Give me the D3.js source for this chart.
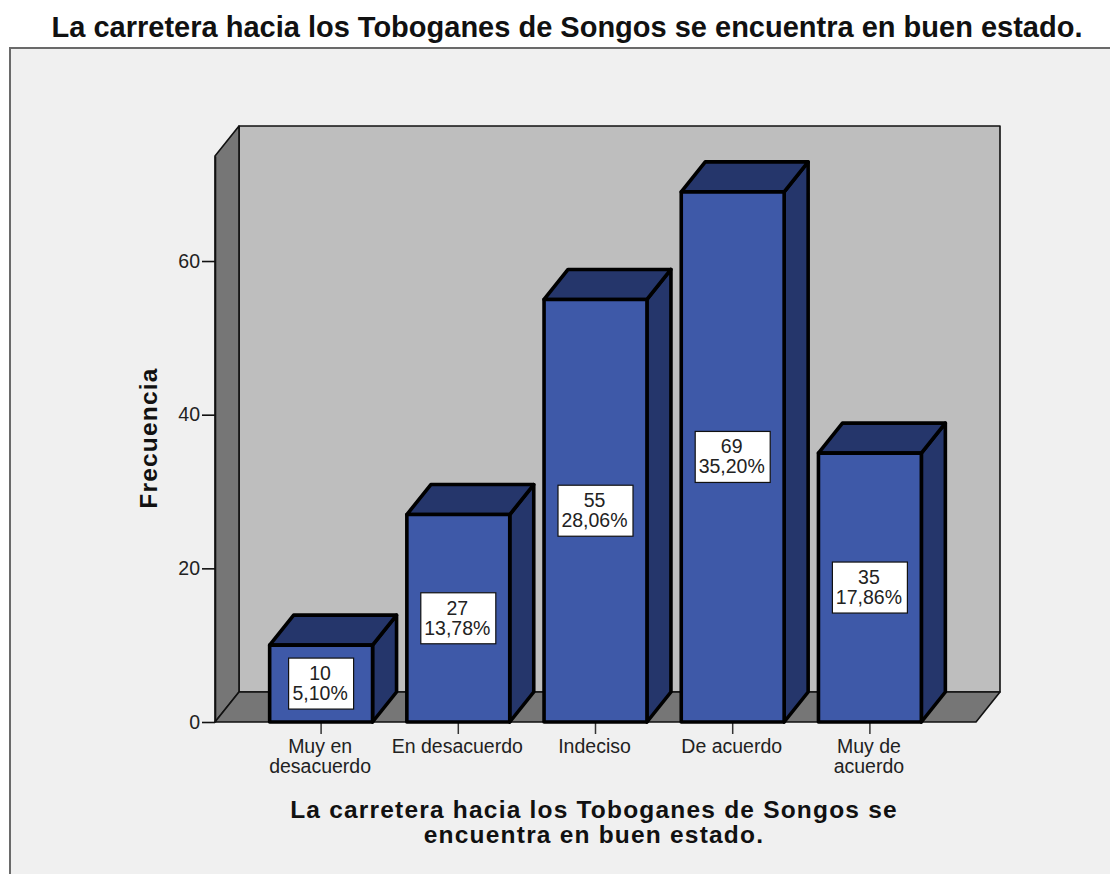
<!DOCTYPE html>
<html><head><meta charset="utf-8">
<script src="https://cdn.jsdelivr.net/npm/d3@7"></script>
<style>html,body{margin:0;padding:0;background:#fff}svg{display:block}text{font-family:"Liberation Sans",Arial,sans-serif}</style>
</head><body><div id="c"></div>
<script>
const categories=["Muy en desacuerdo","En desacuerdo","Indeciso","De acuerdo","Muy de acuerdo"];
const categoryLines=[["Muy en","desacuerdo"],["En desacuerdo"],["Indeciso"],["De acuerdo"],["Muy de","acuerdo"]];
const frequencies=[10,27,55,69,35];
const percents=["5,10%","13,78%","28,06%","35,20%","17,86%"];
const yTicks=[0,20,40,60];
const yMax=73.67;
const chartTitle="La carretera hacia los Toboganes de Songos se encuentra en buen estado.";
const xTitle=["La carretera hacia los Toboganes de Songos se","encuentra en buen estado."];
const yTitle="Frecuencia";

const W=1110,H=874;
const svg=d3.select("#c").append("svg").attr("width",W).attr("height",H);
const y=d3.scaleLinear().domain([0,yMax]).range([722,156]);
const x=d3.scaleBand().domain(categories).range([252.5,938.5]).paddingInner(.25).paddingOuter(.125);
const dx=24,dy=-30,left=215,right=976;
const pts=a=>a.map(p=>p.join(",")).join(" ");

svg.append("rect").attr("x",10).attr("y",48).attr("width",W).attr("height",H).attr("fill","#f0f0f0").attr("stroke","#6a6a6a").attr("stroke-width",2);
svg.append("text").attr("x",567).attr("y",36.5).attr("text-anchor","middle").attr("font-size",29).attr("font-weight","bold").attr("fill","#111").text(chartTitle);

function poly(a,fill){return svg.append("polygon").attr("points",pts(a)).attr("fill",fill).attr("stroke","#111").attr("stroke-width",1.6).attr("stroke-linejoin","round");}
poly([[left+dx,y(yMax)+dy],[right+dx,y(yMax)+dy],[right+dx,y(0)+dy],[left+dx,y(0)+dy]],"#bebebe");
poly([[left,y(yMax)],[left+dx,y(yMax)+dy],[left+dx,y(0)+dy],[left,y(0)]],"#767676");
poly([[left,y(0)],[left+dx,y(0)+dy],[right+dx,y(0)+dy],[right,y(0)]],"#767676");

const yAxis=d3.axisLeft(y).tickValues(yTicks).tickSize(13).tickSizeOuter(0).tickPadding(2);
const gy=svg.append("g").attr("transform",`translate(${left},0)`).call(yAxis);
gy.select(".domain").attr("stroke","#111").attr("stroke-width",1.6);
gy.selectAll(".tick line").attr("stroke","#111").attr("stroke-width",1.6);
gy.selectAll(".tick text").attr("font-size",19.5).attr("font-family","Liberation Sans").attr("fill","#222");

const xAxis=d3.axisBottom(x).tickSize(12).tickSizeOuter(0).tickFormat("");
const gx=svg.append("g").attr("transform",`translate(0,${y(0)})`).call(xAxis);
gx.select(".domain").remove();
gx.selectAll(".tick line").attr("stroke","#333").attr("stroke-width",1.5);
gx.selectAll(".tick").each(function(d,i){
  const t=d3.select(this).append("text").attr("text-anchor","middle").attr("font-size",19.5).attr("font-family","Liberation Sans").attr("fill","#222");
  categoryLines[i].forEach((l,k)=>t.append("tspan").attr("x",-1).attr("y",31+k*20).text(l));
});

const bars=svg.append("g").selectAll("g").data(categories).join("g");
bars.each(function(c,i){
  const g=d3.select(this),v=frequencies[i],a=x(c),b=a+x.bandwidth(),t=y(v),z=y(0);
  const P=(arr,f)=>g.append("polygon").attr("points",pts(arr)).attr("fill",f).attr("stroke","#000").attr("stroke-width",3.6).attr("stroke-linejoin","round");
  P([[b,t],[b+dx,t+dy],[b+dx,z+dy],[b,z]],"#25366b");
  P([[a,t],[a+dx,t+dy],[b+dx,t+dy],[b,t]],"#25366b");
  P([[a,t],[b,t],[b,z],[a,z]],"#3e59a8");
  const cx=(a+b)/2,cy=y(v/2);
  const bw=percents[i].length>5?75:65;
  g.append("rect").attr("x",cx-bw/2).attr("y",cy-25.5).attr("width",bw).attr("height",51).attr("fill","#fff").attr("stroke","#111").attr("stroke-width",1.2);
  const lbl=g.append("text").attr("text-anchor","middle").attr("font-size",19.5).attr("fill","#222");
  lbl.append("tspan").attr("x",cx-1).attr("y",cy-3.5).text(v);
  lbl.append("tspan").attr("x",cx-1).attr("y",cy+16.5).text(percents[i]);
});

const xt=svg.append("text").attr("text-anchor","middle").attr("font-size",24.5).attr("font-weight","bold").attr("letter-spacing",1.2).attr("fill","#111");
xTitle.forEach((l,k)=>xt.append("tspan").attr("x",594).attr("y",818+k*25).text(l));
svg.append("text").attr("transform","translate(157,438) rotate(-90)").attr("text-anchor","middle").attr("font-size",24.5).attr("font-weight","bold").attr("letter-spacing",1.2).attr("fill","#111").text(yTitle);
</script></body></html>
